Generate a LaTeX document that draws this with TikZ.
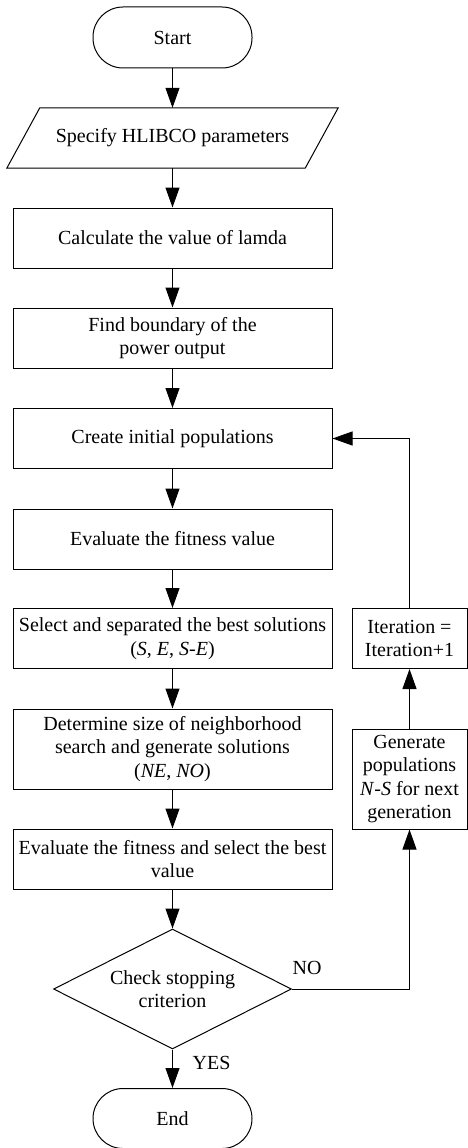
\documentclass[tikz,border=0pt]{standalone}
\usepackage{fontspec}
\setmainfont{Liberation Serif}
\usetikzlibrary{arrows.meta,shapes.geometric,calc}
\begin{document}
\begin{tikzpicture}[x=1pt,y=-1pt,
  every node/.style={font=\fontsize{20}{23.5}\selectfont, align=center, inner sep=2pt},
  procbox/.style={draw, line width=1pt, rectangle, minimum width=319pt, minimum height=60pt},
  sidebox/.style={draw, line width=1pt, rectangle, minimum width=115pt, minimum height=60pt},
  term/.style={draw, line width=1pt, rectangle, rounded corners=30pt, minimum width=159pt, minimum height=61pt},
  decide/.style={draw, line width=1pt, diamond, aspect=2, inner sep=0pt, minimum width=238pt, minimum height=120pt},
  flow/.style={line width=1pt, -{Triangle[length=20pt,width=14pt]}},
  lbl/.style={inner sep=0pt}
]
\useasboundingbox (0,0) rectangle (468,1148);

\node[term] (start) at (172.5,37.5) {Start};
\node[minimum width=298pt, minimum height=60pt] (param) at (172.5,138) {Specify HLIBCO parameters};
\draw[line width=1pt] ([xshift=16.5pt]param.north west) -- ([xshift=16.5pt]param.north east)
  -- ([xshift=-16.5pt]param.south east) -- ([xshift=-16.5pt]param.south west) -- cycle;
\node[procbox] (calc) at (172.5,238) {Calculate the value of lamda};
\node[procbox] (bound) at (172.5,338) {Find boundary of the\\power output};
\node[procbox] (create) at (172.5,438.5) {Create initial populations};
\node[procbox] (evalfit) at (172.5,539) {Evaluate the fitness value};
\node[procbox] (select) at (172.5,638.5) {Select and separated the best solutions\\(\textit{S}, \textit{E}, \textit{S}-\textit{E})};
\node[procbox, minimum height=80pt] (determine) at (172.5,749) {Determine size of neighborhood\\search and generate solutions\\(\textit{NE}, \textit{NO})};
\node[procbox] (evalsel) at (172.5,859) {Evaluate the fitness and select the best\\value};
\node[decide] (check) at (172.5,989) {Check stopping\\criterion};
\node[term, minimum height=60pt] (end) at (172.5,1118.5) {End};

\node[sidebox] (iter) at (409.5,638.5) {Iteration =\\Iteration+1};
\node[sidebox, minimum height=100pt] (gen) at (409.5,779) {Generate\\populations\\\textit{N}-\textit{S} for next\\generation};

\draw[flow] (start) -- (param.north);
\draw[flow] (param.south) -- (calc);
\draw[flow] (calc) -- (bound);
\draw[flow] (bound) -- (create);
\draw[flow] (create) -- (evalfit);
\draw[flow] (evalfit) -- (select);
\draw[flow] (select) -- (determine);
\draw[flow] (determine) -- (evalsel);
\draw[flow] (evalsel) -- (check);
\draw[flow] (check) -- (end);
\draw[flow] (check.east) -| (gen.south);
\draw[flow] (gen) -- (iter);
\draw[flow] (iter.north) |- (create.east);

\node[lbl] (no) at (307,968) {NO};
\node[lbl] (yes) at (211.5,1063) {YES};
\end{tikzpicture}
\end{document}
